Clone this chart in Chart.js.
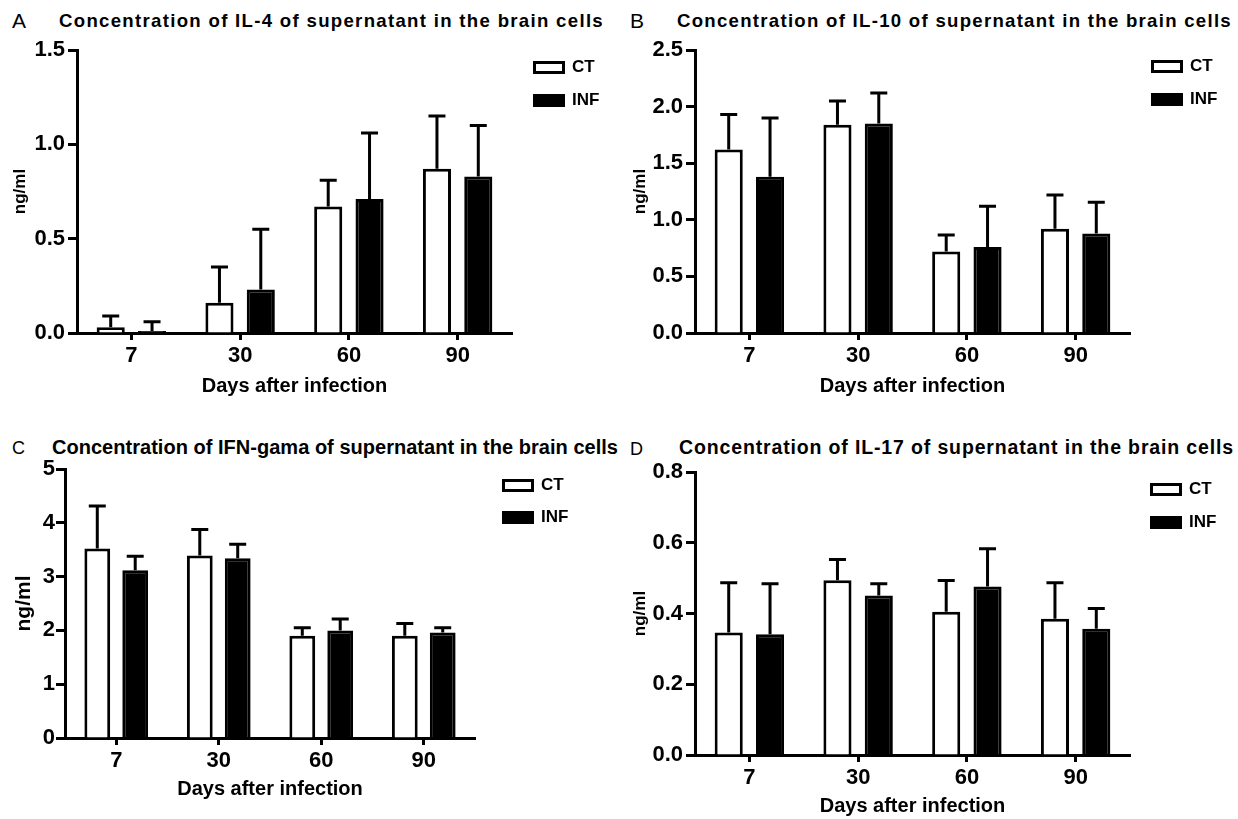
<!DOCTYPE html>
<html>
<head>
<meta charset="utf-8">
<script src="https://cdn.jsdelivr.net/npm/chart.js@4.4.0/dist/chart.umd.min.js"></script>
<style>
  body { margin: 0; background: #fff; width: 1238px; height: 819px; position: relative; overflow: hidden;
         font-family: 'Liberation Sans', Arial, sans-serif; color: #000; }
  canvas { position: absolute; }
  .letter { position: absolute; line-height: 1; white-space: nowrap; }
  .ttl { position: absolute; line-height: 1; white-space: nowrap; font-weight: bold; }
</style>
</head>
<body>
<div class="letter" style="left:12px;top:10px;font-size:21px">A</div>
<div class="ttl" data-w="545" style="left:59px;top:12px;font-size:18.6px">Concentration of IL-4 of supernatant in the brain cells</div>
<div class="letter" style="left:630px;top:10px;font-size:21px">B</div>
<div class="ttl" data-w="555" style="left:677px;top:12px;font-size:18.6px">Concentration of IL-10 of supernatant in the brain cells</div>
<div class="letter" style="left:12px;top:439px;font-size:18px">C</div>
<div class="ttl" data-w="566" style="left:52px;top:437px;font-size:20px">Concentration of IFN-gama of supernatant in the brain cells</div>
<div class="letter" style="left:630px;top:440px;font-size:18px">D</div>
<div class="ttl" data-w="555" style="left:679px;top:438px;font-size:19.5px">Concentration of IL-17 of supernatant in the brain cells</div>

<script>
const days = ['7', '30', '60', '90'];
const groups = ['CT', 'INF'];

// IL-4 (A), mean and SD
const il4Ct = [0.03, 0.16, 0.67, 0.87];
const il4CtSd = [0.06, 0.19, 0.14, 0.28];
const il4Inf = [0.01, 0.23, 0.71, 0.83];
const il4InfSd = [0.05, 0.32, 0.35, 0.27];
const il4Ticks = [0, 0.5, 1.0, 1.5];

// IL-10 (B)
const il10Ct = [1.62, 1.84, 0.72, 0.92];
const il10CtSd = [0.31, 0.21, 0.145, 0.30];
const il10Inf = [1.38, 1.85, 0.76, 0.88];
const il10InfSd = [0.52, 0.27, 0.36, 0.275];
const il10Ticks = [0, 0.5, 1.0, 1.5, 2.0, 2.5];

// IFN-gama (C)
const ifnCt = [3.52, 3.39, 1.90, 1.90];
const ifnCtSd = [0.79, 0.485, 0.15, 0.23];
const ifnInf = [3.12, 3.34, 2.00, 1.96];
const ifnInfSd = [0.26, 0.26, 0.21, 0.09];
const ifnTicks = [0, 1, 2, 3, 4, 5];

// IL-17 (D)
const il17Ct = [0.346, 0.494, 0.405, 0.385];
const il17CtSd = [0.141, 0.059, 0.088, 0.102];
const il17Inf = [0.341, 0.451, 0.476, 0.357];
const il17InfSd = [0.143, 0.033, 0.107, 0.057];
const il17Ticks = [0, 0.2, 0.4, 0.6, 0.8];

Chart.defaults.font.family = "'Liberation Sans', Arial, sans-serif";
Chart.defaults.color = '#000';

// fit titles to their width
document.querySelectorAll('.ttl').forEach(el => {
  const w = +el.dataset.w;
  const nat = el.getBoundingClientRect().width;
  el.style.letterSpacing = ((w - nat) / el.textContent.length) + 'px';
});

// upper error whiskers
const errorBars = {
  id: 'errorBars',
  afterDatasetsDraw(chart, args, opts) {
    const ctx = chart.ctx;
    const y = chart.scales.y;
    chart.data.datasets.forEach((ds, i) => {
      chart.getDatasetMeta(i).data.forEach((bar, j) => {
        const top = y.getPixelForValue(ds.data[j] + ds.sd[j]);
        ctx.save();
        ctx.strokeStyle = '#000';
        ctx.lineWidth = 3;
        ctx.beginPath();
        ctx.moveTo(bar.x, bar.y);
        ctx.lineTo(bar.x, top);
        ctx.moveTo(bar.x - opts.cap / 2, top);
        ctx.lineTo(bar.x + opts.cap / 2, top);
        ctx.stroke();
        ctx.restore();
      });
    });
  }
};

// move the legend block to where the boxes sit in the figure
const legendSpot = {
  id: 'legendSpot',
  afterLayout(chart, args, opts) {
    const lg = chart.legend;
    const pad = lg.options.labels.padding;
    const dx = opts.left - pad + 1.5 - lg.left;
    const dy = opts.top - pad - 2 - lg.top;
    lg.left += dx; lg.right += dx + 40;   // widen so the label text isn't clipped
    lg.top += dy; lg.bottom += dy;
  }
};

function panel(p) {
  const cv = document.createElement('canvas');
  cv.width = p.box[2];
  cv.height = p.box[3];
  cv.style.left = p.box[0] + 'px';
  cv.style.top = p.box[1] + 'px';
  document.body.appendChild(cv);

  const legendW = 78;
  const xTitleSize = 20;
  const xH = p.xTitleOff + xTitleSize * 0.6;

  new Chart(cv, {
    type: 'bar',
    data: {
      labels: days,
      datasets: [
        { label: groups[0], data: p.ct, sd: p.ctSd, backgroundColor: '#fff', borderColor: '#000', borderWidth: 3,
          barPercentage: 0.68, categoryPercentage: p.catPct },
        { label: groups[1], data: p.inf, sd: p.infSd, backgroundColor: '#000', borderColor: '#000', borderWidth: 3,
          barPercentage: 0.68, categoryPercentage: p.catPct }
      ]
    },
    options: {
      responsive: false,
      animation: false,
      layout: {
        padding: {
          left: 0,
          top: p.area[1] - p.box[1],
          right: p.box[0] + p.box[2] - p.area[2] - legendW,
          bottom: p.box[1] + p.box[3] - p.area[3] - xH
        }
      },
      plugins: {
        tooltip: { enabled: false },
        legend: {
          position: 'right', align: 'start', maxWidth: legendW,
          labels: { boxWidth: 29, boxHeight: 10, padding: p.legendPad, color: '#000',
                    font: { size: 17, weight: 'bold' } }
        },
        errorBars: { cap: 17 },
        legendSpot: { left: p.legend[0] - p.box[0], top: p.legend[1] - p.box[1] }
      },
      scales: {
        x: {
          afterFit: s => { s.height = xH; },
          border: { color: '#000', width: 3 },
          grid: { offset: false, drawOnChartArea: false, tickLength: 7, tickWidth: 3, tickColor: '#000' },
          ticks: { color: '#000', padding: 3, maxRotation: 0,
                   font: { size: p.tickSize, weight: 'bold' } },
          title: { display: true, text: 'Days after infection', color: '#000', padding: 0,
                   font: { size: xTitleSize, weight: 'bold' } }
        },
        y: {
          min: p.ticks[0],
          max: p.ticks[p.ticks.length - 1],
          afterBuildTicks: s => { s.ticks = p.ticks.map(v => ({ value: v })); },
          afterFit: s => { s.width = p.area[0] - p.box[0]; },
          border: { color: '#000', width: 3 },
          grid: { drawOnChartArea: false, tickLength: 9, tickWidth: 3, tickColor: '#000' },
          ticks: { color: '#000', padding: p.yTickPad,
                   font: { size: p.tickSize, weight: 'bold' },
                   callback: v => v.toFixed(p.decimals) },
          title: { display: true, text: 'ng/ml', color: '#000',
                   font: { size: p.yTitleSize, weight: 'bold' },
                   padding: { top: p.yTitleX - p.yTitleSize * 0.6, bottom: 0 } }
        }
      }
    },
    plugins: [errorBars, legendSpot]
  });
}

// box: canvas [x, y, w, h]; area: plot [left, top, right, bottom]; legend: first box [left, top]
panel({ ct: il4Ct, ctSd: il4CtSd, inf: il4Inf, infSd: il4InfSd, ticks: il4Ticks, decimals: 1,
        box: [0, 0, 620, 410], area: [77, 50, 512, 333], legend: [533, 61], legendPad: 16,
        catPct: 0.76, tickSize: 22, yTickPad: 3, yTitleSize: 17, yTitleX: 20, xTitleOff: 53.5 });
panel({ ct: il10Ct, ctSd: il10CtSd, inf: il10Inf, infSd: il10InfSd, ticks: il10Ticks, decimals: 1,
        box: [620, 0, 618, 410], area: [695, 50, 1130, 333], legend: [1151, 60], legendPad: 16,
        catPct: 0.76, tickSize: 22, yTickPad: 3, yTitleSize: 17, yTitleX: 20, xTitleOff: 53.5 });
panel({ ct: ifnCt, ctSd: ifnCtSd, inf: ifnInf, infSd: ifnInfSd, ticks: ifnTicks, decimals: 0,
        box: [0, 410, 620, 409], area: [65, 469, 475, 738], legend: [502, 479], legendPad: 15,
        catPct: 0.74, tickSize: 22, yTickPad: 1, yTitleSize: 21, yTitleX: 24, xTitleOff: 51 });
panel({ ct: il17Ct, ctSd: il17CtSd, inf: il17Inf, infSd: il17InfSd, ticks: il17Ticks, decimals: 1,
        box: [620, 410, 618, 409], area: [695, 472, 1130, 755], legend: [1150, 483], legendPad: 16,
        catPct: 0.76, tickSize: 22, yTickPad: 3, yTitleSize: 17, yTitleX: 20, xTitleOff: 51.5 });
</script>
</body>
</html>
